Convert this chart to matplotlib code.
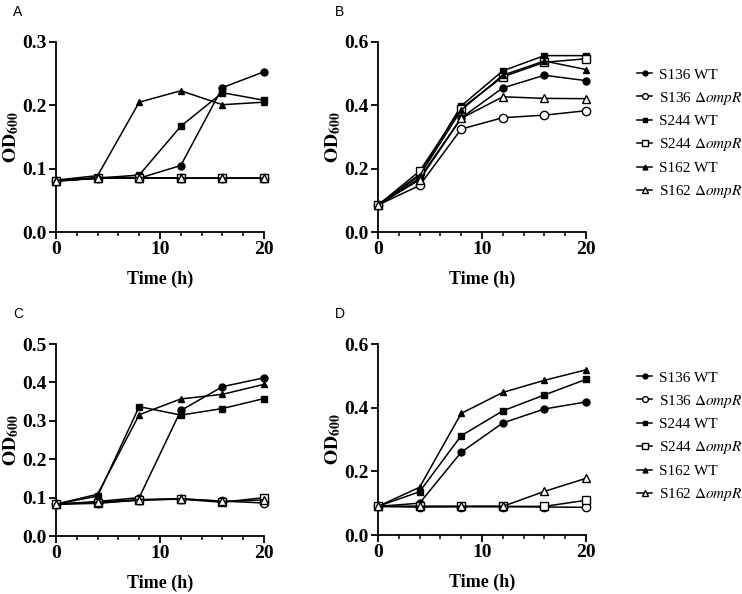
import numpy as np
import matplotlib
matplotlib.use('Agg')
import matplotlib.pyplot as plt
from matplotlib.ticker import MultipleLocator, FormatStrFormatter

plt.rcParams['font.family'] = 'Liberation Serif'
plt.rcParams['mathtext.fontset'] = 'stix'

time_h = [0, 4, 8, 12, 16, 20]
labels = ['S136 WT', r'S136 $\Delta\mathit{ompR}$', 'S244 WT', r'S244 $\Delta\mathit{ompR}$',
          'S162 WT', r'S162 $\Delta\mathit{ompR}$']

# panel A
a_s136_wt = [0.080, 0.085, 0.085, 0.105, 0.228, 0.253]
a_s136_d = [0.081, 0.085, 0.085, 0.085, 0.085, 0.085]
a_s244_wt = [0.081, 0.085, 0.090, 0.167, 0.220, 0.208]
a_s244_d = [0.081, 0.085, 0.085, 0.085, 0.085, 0.085]
a_s162_wt = [0.082, 0.089, 0.205, 0.223, 0.201, 0.205]
a_s162_d = [0.081, 0.086, 0.086, 0.085, 0.085, 0.085]

# panel B
b_s136_wt = [0.085, 0.170, 0.360, 0.455, 0.495, 0.478]
b_s136_d = [0.085, 0.147, 0.325, 0.361, 0.369, 0.383]
b_s244_wt = [0.085, 0.182, 0.398, 0.509, 0.557, 0.557]
b_s244_d = [0.085, 0.192, 0.390, 0.490, 0.536, 0.547]
b_s162_wt = [0.085, 0.178, 0.385, 0.495, 0.540, 0.513]
b_s162_d = [0.085, 0.165, 0.359, 0.427, 0.422, 0.421]

# panel C
c_s136_wt = [0.083, 0.090, 0.100, 0.327, 0.389, 0.412]
c_s136_d = [0.083, 0.087, 0.093, 0.097, 0.091, 0.086]
c_s244_wt = [0.083, 0.104, 0.337, 0.315, 0.332, 0.358]
c_s244_d = [0.083, 0.085, 0.094, 0.096, 0.088, 0.100]
c_s162_wt = [0.083, 0.109, 0.316, 0.357, 0.369, 0.395]
c_s162_d = [0.083, 0.088, 0.095, 0.097, 0.090, 0.094]

# panel D
d_s136_wt = [0.090, 0.100, 0.260, 0.352, 0.396, 0.418]
d_s136_d = [0.090, 0.088, 0.089, 0.089, 0.088, 0.087]
d_s244_wt = [0.090, 0.136, 0.312, 0.390, 0.440, 0.489]
d_s244_d = [0.090, 0.090, 0.090, 0.090, 0.090, 0.109]
d_s162_wt = [0.090, 0.150, 0.382, 0.448, 0.486, 0.519]
d_s162_d = [0.090, 0.090, 0.090, 0.090, 0.137, 0.178]

styles = [('o', 'black', 5), ('o', 'white', 6), ('s', 'black', 5),
          ('s', 'white', 6), ('^', 'black', 5), ('^', 'white', 6)]

# letter, axes rect, y max, y step, legend centre (px from top) or None, data
panels = [
    ('A', [0.0755, 0.6094, 0.2803, 0.3199], 0.3, 0.1, None,
     [a_s136_wt, a_s136_d, a_s244_wt, a_s244_d, a_s162_wt, a_s162_d]),
    ('B', [0.5094, 0.6094, 0.2803, 0.3199], 0.6, 0.2, 134,
     [b_s136_wt, b_s136_d, b_s244_wt, b_s244_d, b_s162_wt, b_s162_d]),
    ('C', [0.0755, 0.0976, 0.2803, 0.3232], 0.5, 0.1, None,
     [c_s136_wt, c_s136_d, c_s244_wt, c_s244_d, c_s162_wt, c_s162_d]),
    ('D', [0.5094, 0.0993, 0.2803, 0.3215], 0.6, 0.2, 437,
     [d_s136_wt, d_s136_d, d_s244_wt, d_s244_d, d_s162_wt, d_s162_d]),
]

fig = plt.figure(figsize=(7.42, 5.94), dpi=100)

for letter, rect, ytop, ystep, leg_y, series in panels:
    ax = fig.add_axes(rect)
    for vals, (mk, fc, ms), lab in zip(series, styles, labels):
        ax.plot(time_h, vals, '-', color='black', lw=1.1, marker=mk, markersize=ms,
                markerfacecolor=fc, markeredgecolor='black', markeredgewidth=1.0,
                label=lab, clip_on=False, zorder=3)
    ax.set_xlim(0, 20)
    ax.set_ylim(0, ytop)
    ax.spines['top'].set_visible(False)
    ax.spines['right'].set_visible(False)
    ax.spines['left'].set_linewidth(1.3)
    ax.spines['bottom'].set_linewidth(1.3)
    ax.xaxis.set_major_locator(MultipleLocator(10))
    ax.xaxis.set_minor_locator(MultipleLocator(2))
    ax.yaxis.set_major_locator(MultipleLocator(ystep))
    ax.yaxis.set_major_formatter(FormatStrFormatter('%.1f'))
    ax.tick_params(axis='both', which='major', length=5, width=1.3, labelsize=14, pad=1.5)
    ax.tick_params(axis='x', which='minor', length=3, width=1.1)
    for lbl in ax.get_xticklabels() + ax.get_yticklabels():
        lbl.set_fontweight('bold')
    ax.set_xlabel('Time (h)', fontsize=13, fontweight='bold', labelpad=9)
    ax.set_ylabel(r'$\mathbf{OD}_{\mathbf{600}}$', fontsize=14, labelpad=1)
    top_px = 594 - (rect[1] + rect[3]) * 594
    fig.text((rect[0] * 742 - 43) / 742, 1 - (top_px - 30) / 594, letter,
             family='Liberation Sans', fontsize=10, ha='left', va='center')
    if leg_y is not None:
        ax.legend(loc='center left', bbox_to_anchor=(637 / 742, 1 - leg_y / 594),
                  bbox_transform=fig.transFigure, frameon=False, fontsize=11,
                  handlelength=1.0, handletextpad=0.45, labelspacing=0.52,
                  borderpad=0, borderaxespad=0, markerscale=0.7)

plt.savefig('out.png')
